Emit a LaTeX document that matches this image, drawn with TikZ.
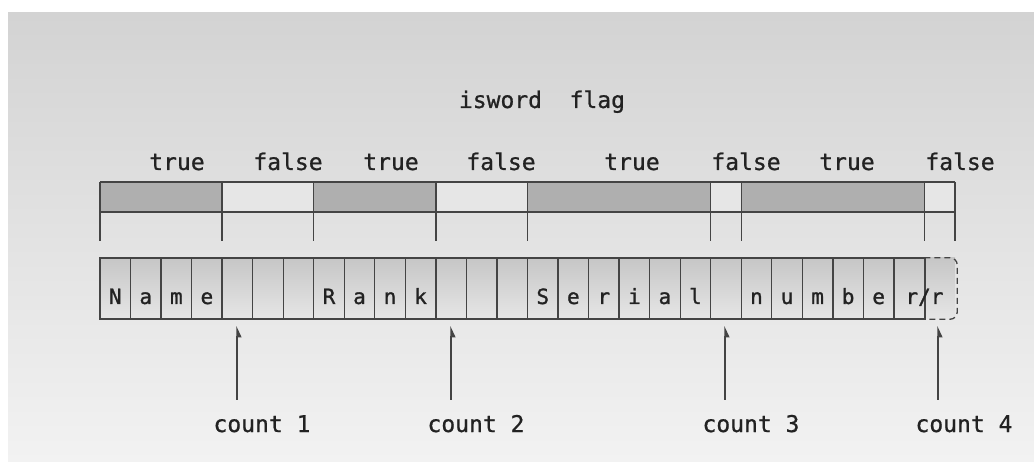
\documentclass[tikz,border=0pt]{standalone}
\usepackage{fontspec}
\newfontfamily\monof[FakeBold=0.8]{DejaVu Sans Mono}
\newfontfamily\monob[FakeBold=1.2]{DejaVu Sans Mono}
\usetikzlibrary{arrows.meta}
\definecolor{bgtop}{HTML}{D3D3D3}
\definecolor{bgbot}{HTML}{F2F2F2}
\definecolor{truefill}{HTML}{AFAFAF}
\definecolor{falsefill}{HTML}{E6E6E6}
\definecolor{linec}{HTML}{444444}
\definecolor{celltop}{HTML}{C6C6C6}
\definecolor{cellbot}{HTML}{E6E6E6}
\definecolor{txt}{HTML}{222222}
\tikzset{
  lbl/.style={font=\monof\fontsize{23}{23}\selectfont, anchor=base, inner sep=0pt, text=txt},
  chr/.style={font=\monob\fontsize{21}{21}\selectfont, anchor=base, inner sep=0pt, text=txt},
  cellbox/.style={draw=linec, line width=1.3pt, minimum width=30.536pt, minimum height=61pt, inner sep=0pt, top color=celltop, bottom color=cellbot},
  cellbg/.style={minimum width=30.536pt, minimum height=61pt, inner sep=0pt, top color=celltop, bottom color=cellbot},
  flagline/.style={draw=linec, line width=1.4pt},
  ptr/.style={draw=linec, line width=1.3pt, -{Triangle[harpoon,swap,length=10pt,width=9pt]}},
}
\begin{document}
\begin{tikzpicture}[x=1pt,y=-1pt]
\useasboundingbox (0,0) rectangle (1034,462);
\fill[white] (0,0) rectangle (1034,462);
\shade[top color=bgtop, bottom color=bgbot] (8,13) rectangle (1034,462);
\def\w{30.536}
% flag bar segments
\foreach \a/\b/\c/\n in {0/4/truefill/f1, 4/7/falsefill/f2, 7/11/truefill/f3, 11/14/falsefill/f4, 14/20/truefill/f5, 20/21/falsefill/f6, 21/27/truefill/f7, 27/28/falsefill/f8}{
  \fill[\c] ({100+\a*\w},182) rectangle ({100+\b*\w},212);
}
\draw[flagline] (100,182) -- (955,182);
\draw[flagline] (100,212) -- (955,212);
\foreach \a in {0,4,7,11,14,20,21,27,28}{
  \draw[flagline] ({100+\a*\w},182) -- ({100+\a*\w},241);
}
% flag labels
\node[lbl] (t1) at (177,170) {true};
\node[lbl] (t2) at (288,170) {false};
\node[lbl] (t3) at (391,170) {true};
\node[lbl] (t4) at (501,170) {false};
\node[lbl] (t5) at (632,170) {true};
\node[lbl] (t6) at (746,170) {false};
\node[lbl] (t7) at (847,170) {true};
\node[lbl] (t8) at (960,170) {false};
\node[lbl] (title) at (542,108) {isword\hspace{1.2em}flag};
% cells
\foreach \i in {0,...,26}{
  \node[cellbox] (c\i) at ({100+\i*\w+\w/2},288.5) {};
}
\node[cellbg] (c27) at ({100+27*\w+\w/2},288.5) {};
\draw[linec, line width=1.3pt, dashed, dash pattern=on 6pt off 4pt, rounded corners=7pt]
  (c27.north west) -- ([xshift=2pt]c27.north east) -- ([xshift=2pt]c27.south east) -- (c27.south west);
\draw[linec, line width=1.3pt] (c26.north east) -- (c26.south east);
% letters
\foreach \i/\t in {0/N,1/a,2/m,3/e,7/R,8/a,9/n,10/k,14/S,15/e,16/r,17/i,18/a,19/l,21/n,22/u,23/m,24/b,25/e}{
  \node[chr] (l\i) at ({100+\i*\w+\w/2},304) {\t};
}
\node[chr] (lr) at ({100+27*\w},304) {r/r};
% pointers
\node[lbl] (n1) at (262,432) {count 1};
\node[lbl] (n2) at (476,432) {count 2};
\node[lbl] (n3) at (751,432) {count 3};
\node[lbl] (n4) at (964,432) {count 4};
\foreach \k/\x in {1/237,2/451,3/725,4/938}{
  \coordinate (s\k) at (\x,400);
  \coordinate (e\k) at (\x,326);
  \draw[ptr] (s\k) -- (e\k);
}
\end{tikzpicture}
\end{document}
